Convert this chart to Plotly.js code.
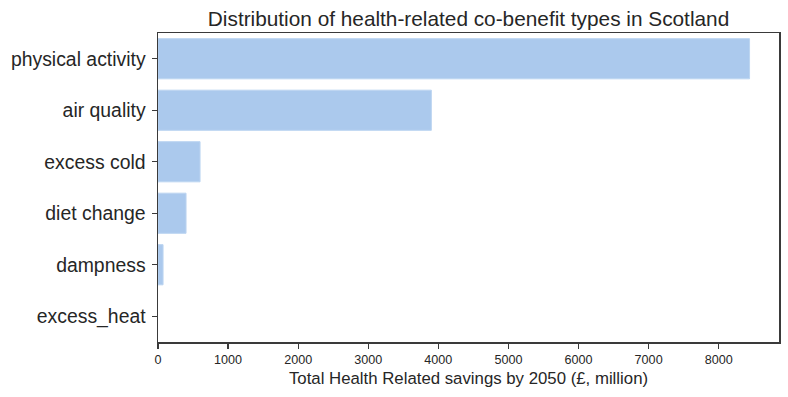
<!DOCTYPE html>
<html>
<head>
<meta charset="utf-8">
<script src="https://cdn.plot.ly/plotly-3.0.1.min.js"></script>
<style>html,body{margin:0;padding:0;background:#fff;}#chart{width:788px;height:397px;}</style>
</head>
<body>
<div id="chart"></div>
<script>
const categories = ["physical activity", "air quality", "excess cold", "diet change", "dampness", "excess_heat"];
const savings = [8440, 3900, 600, 400, 72, 0];
const xTickValues = [0, 1000, 2000, 3000, 4000, 5000, 6000, 7000, 8000];

const trace = {
  type: "bar",
  orientation: "h",
  y: categories,
  x: savings,
  width: 0.78,
  marker: {color: "#abc9ed", line: {color: "#bcd5f1", width: savings.map(v => v > 0 ? 1 : 0)}},
  hoverinfo: "x+y"
};

const axisCommon = {
  showline: true, linecolor: "#3a3a3a", linewidth: 1.5, mirror: true,
  ticks: "outside", ticklen: 5, tickwidth: 1.3, tickcolor: "#3a3a3a",
  showgrid: false, zeroline: false
};

const layout = {
  width: 788, height: 397,
  margin: {l: 158, r: 9, t: 33, b: 55},
  paper_bgcolor: "#fff", plot_bgcolor: "#fff",
  font: {family: "Liberation Sans, Arial, sans-serif", color: "#262626"},
  title: {text: "Distribution of health-related co-benefit types in Scotland",
          font: {size: 20.8, color: "#262626"}, x: 0.5946, xanchor: "center", y: 0.953, yanchor: "middle"},
  xaxis: Object.assign({}, axisCommon, {
    range: [0, 8860], tickvals: xTickValues, tickfont: {size: 12.6},
    title: {text: "Total Health Related savings by 2050 (£, million)", font: {size: 16.8}, standoff: 6}
  }),
  yaxis: Object.assign({}, axisCommon, {
    autorange: false, range: [5.5, -0.5], type: "category",
    tickfont: {size: 19.4}, ticklabelstandoff: 2
  }),
  showlegend: false,
  bargap: 0.2
};

Plotly.newPlot("chart", [trace], layout, {staticPlot: true, displayModeBar: false});
</script>
</body>
</html>
